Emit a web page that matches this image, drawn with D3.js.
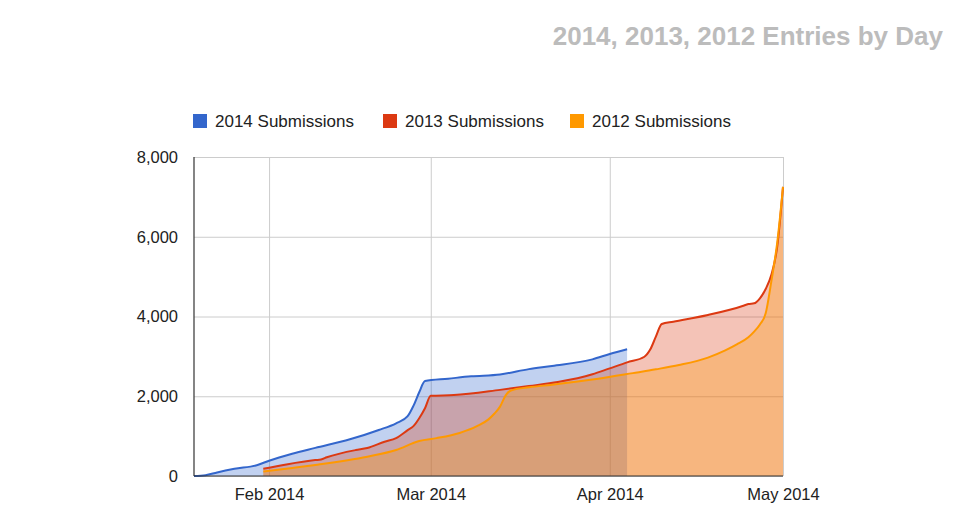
<!DOCTYPE html>
<html>
<head>
<meta charset="utf-8">
<script src="https://cdn.jsdelivr.net/npm/d3@7"></script>
<style>
  html, body { margin: 0; padding: 0; background: #ffffff; }
  svg { display: block; font-family: "Liberation Sans", Arial, sans-serif; }
</style>
</head>
<body>
<svg id="chart" width="980" height="530"></svg>
<script>
const title = "2014, 2013, 2012 Entries by Day";
const seriesNames = ["2014 Submissions", "2013 Submissions", "2012 Submissions"];
const seriesColors = ["#3366cc", "#dc3912", "#ff9900"];

const dates2014 = ["2014-01-19","2014-01-21","2014-01-23","2014-01-26","2014-01-30","2014-02-01","2014-02-05","2014-02-09","2014-02-15","2014-02-20","2014-02-23","2014-02-25","2014-02-26","2014-02-27","2014-02-28","2014-03-04","2014-03-08","2014-03-13","2014-03-18","2014-03-22","2014-03-29","2014-04-01","2014-04-04"];
const values2014 = [0, 20, 90, 180, 276, 384, 560, 705, 920, 1154, 1322, 1500, 1760, 2100, 2380, 2440, 2500, 2545, 2680, 2760, 2925, 3060, 3180];

const dates2013 = ["2014-01-31","2014-02-04","2014-02-09","2014-02-10","2014-02-11","2014-02-16","2014-02-18","2014-02-21","2014-02-23","2014-02-25","2014-02-26","2014-02-27","2014-02-28","2014-03-01","2014-03-05","2014-03-13","2014-03-18","2014-03-23","2014-03-29","2014-04-01","2014-04-04","2014-04-07","2014-04-08","2014-04-09","2014-04-10","2014-04-12","2014-04-18","2014-04-24","2014-04-25","2014-04-26","2014-04-27","2014-04-28","2014-04-29","2014-04-30","2014-05-01"];
const values2013 = [180, 290, 400, 415, 470, 650, 700, 860, 950, 1150, 1250, 1450, 1700, 2010, 2030, 2160, 2255, 2355, 2550, 2700, 2850, 2990, 3170, 3500, 3812, 3870, 4038, 4264, 4314, 4330, 4457, 4690, 5050, 5750, 7250];

const dates2012 = ["2014-01-31","2014-02-05","2014-02-09","2014-02-18","2014-02-23","2014-02-27","2014-03-02","2014-03-06","2014-03-09","2014-03-11","2014-03-12","2014-03-13","2014-03-14","2014-03-15","2014-03-18","2014-03-22","2014-03-30","2014-04-05","2014-04-09","2014-04-13","2014-04-18","2014-04-21","2014-04-23","2014-04-25","2014-04-26","2014-04-27","2014-04-28","2014-04-29","2014-04-30","2014-05-01"];
const values2012 = [110, 200, 276, 484, 652, 880, 950, 1080, 1250, 1420, 1560, 1740, 2030, 2150, 2225, 2290, 2440, 2580, 2676, 2784, 2970, 3150, 3300, 3480, 3620, 3800, 4080, 4900, 5850, 7250];

const yTicks = [0, 2000, 4000, 6000, 8000];
const xTickLabels = ["Feb 2014", "Mar 2014", "Apr 2014", "May 2014"];
const xTickDates = ["2014-02-01", "2014-03-01", "2014-04-01", "2014-05-01"];
const xDomain = ["2014-01-19", "2014-05-01"];

const parse = d3.timeParse("%Y-%m-%d");
const series = [
  { name: seriesNames[0], color: seriesColors[0], data: dates2014.map((d, i) => ({ date: parse(d), value: values2014[i] })) },
  { name: seriesNames[1], color: seriesColors[1], data: dates2013.map((d, i) => ({ date: parse(d), value: values2013[i] })) },
  { name: seriesNames[2], color: seriesColors[2], data: dates2012.map((d, i) => ({ date: parse(d), value: values2012[i] })) }
];

const svg = d3.select("#chart");
const plotL = 194, plotR = 783, plotT = 157, plotB = 476;

const x = d3.scaleTime().domain(xDomain.map(parse)).range([plotL, plotR]);
const y = d3.scaleLinear().domain([0, 8000]).range([plotB, plotT]);

// Title
svg.append("text")
  .attr("x", 943).attr("y", 45)
  .attr("text-anchor", "end")
  .attr("font-size", 26).attr("font-weight", "bold")
  .attr("fill", "#bcbcbc")
  .text(title);

// Legend
const legendX = [193, 383, 570];
const legend = svg.append("g");
series.forEach((s, i) => {
  legend.append("rect")
    .attr("x", legendX[i]).attr("y", 114)
    .attr("width", 14).attr("height", 14)
    .attr("fill", s.color);
  legend.append("text")
    .attr("x", legendX[i] + 22).attr("y", 127)
    .attr("font-size", 17).attr("fill", "#222")
    .text(s.name);
});

// Horizontal gridlines + y labels
const yAxis = d3.axisLeft(y).tickValues(yTicks).tickFormat(d3.format(",")).tickSize(-(plotR - plotL)).tickPadding(16);
const yg = svg.append("g").attr("transform", `translate(${plotL},0)`).call(yAxis);
yg.select(".domain").remove();
yg.selectAll(".tick line").attr("stroke", "#cccccc").attr("stroke-width", 1);
yg.selectAll(".tick text").attr("font-size", 16.5).attr("fill", "#222").attr("font-family", "Liberation Sans, Arial, sans-serif");

// Vertical gridlines + x labels
const xAxis = d3.axisBottom(x).tickValues(xTickDates.map(parse))
  .tickFormat((d, i) => xTickLabels[i]).tickSize(-(plotB - plotT)).tickPadding(12);
const xg = svg.append("g").attr("transform", `translate(0,${plotB})`).call(xAxis);
xg.select(".domain").remove();
xg.selectAll(".tick line").attr("stroke", "#cccccc").attr("stroke-width", 1);
xg.selectAll(".tick text").attr("font-size", 16.5).attr("fill", "#222").attr("font-family", "Liberation Sans, Arial, sans-serif");

// Areas
const area = d3.area().curve(d3.curveMonotoneX).x(d => x(d.date)).y0(y(0)).y1(d => y(d.value));
const line = d3.line().curve(d3.curveMonotoneX).x(d => x(d.date)).y(d => y(d.value));

series.forEach(s => {
  svg.append("path").datum(s.data)
    .attr("d", area)
    .attr("fill", s.color).attr("fill-opacity", 0.3);
});
series.forEach(s => {
  svg.append("path").datum(s.data)
    .attr("d", line)
    .attr("fill", "none").attr("stroke", s.color).attr("stroke-width", 2)
    .attr("stroke-linejoin", "round");
});

// Axis lines
svg.append("line").attr("x1", plotL).attr("x2", plotL).attr("y1", plotT).attr("y2", plotB)
  .attr("stroke", "#333").attr("stroke-width", 1.2);
svg.append("line").attr("x1", plotL).attr("x2", plotR).attr("y1", plotB).attr("y2", plotB)
  .attr("stroke", "#333").attr("stroke-width", 1.2);
</script>
</body>
</html>
